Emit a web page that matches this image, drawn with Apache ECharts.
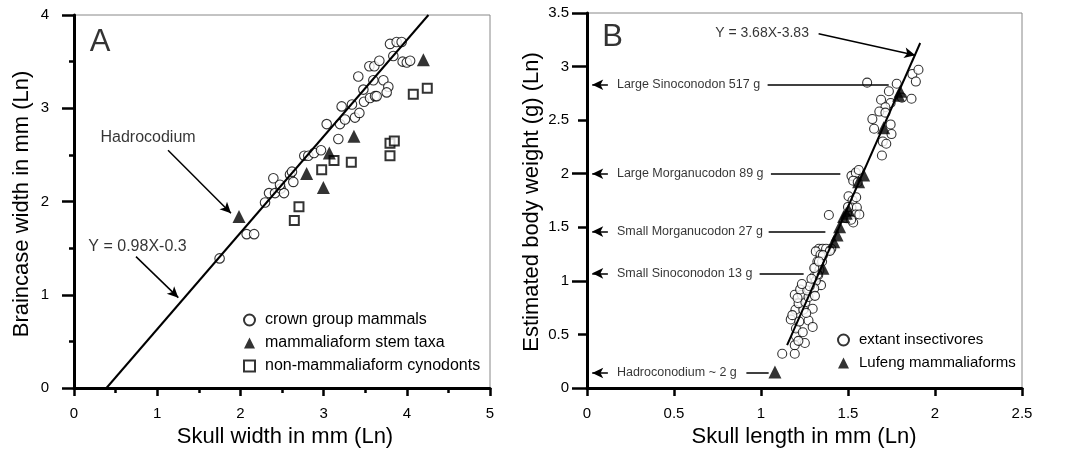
<!DOCTYPE html>
<html>
<head>
<meta charset="utf-8">
<script src="https://cdn.jsdelivr.net/npm/echarts@6/dist/echarts.min.js"></script>
<style>
html,body{margin:0;padding:0;background:#fff;}
#chart{width:1081px;height:450px;}
</style>
</head>
<body>
<div id="chart"></div>
<script>
// ---------- Panel A data ----------
const crownA = [
 [1.75,1.39],[2.075,1.65],[2.165,1.65],[2.296,1.99],[2.344,2.09],[2.416,2.09],[2.396,2.25],
 [2.484,2.14],[2.524,2.09],[2.476,2.18],[2.596,2.29],[2.62,2.32],[2.636,2.21],[2.768,2.49],
 [2.816,2.49],[2.885,2.52],[2.969,2.55],[3.037,2.83],[3.177,2.67],[3.197,2.83],[3.217,3.02],
 [3.257,2.88],[3.341,3.04],[3.377,2.90],[3.43,2.95],[3.417,3.34],[3.486,3.07],[3.478,3.20],
 [3.558,3.11],[3.618,3.13],[3.638,3.13],[3.598,3.30],[3.55,3.45],[3.61,3.45],[3.67,3.51],
 [3.718,3.30],[3.778,3.23],[3.758,3.17],[3.838,3.56],[3.798,3.69],[3.878,3.71],[3.938,3.71],
 [3.95,3.50],[4.00,3.49],[4.04,3.51]
];
const stemA = [[1.983,1.84],[2.796,2.30],[2.997,2.15],[3.069,2.52],[3.365,2.70],[4.199,3.52]];
const cynA = [[2.648,1.795],[2.704,1.945],[2.977,2.34],[3.125,2.44],[3.333,2.42],[3.798,2.49],
 [3.798,2.625],[3.85,2.65],[4.078,3.15],[4.246,3.215]];
const fitA = [[0.39,0],[4.26,4.0]];
const xTicksA = {min:0,max:5,interval:1};
const yTicksA = {min:0,max:4,interval:1};

// ---------- Panel B data ----------
const extantB = [
 // upper group
 [1.61,2.85],[1.78,2.84],[1.87,2.93],[1.905,2.97],[1.89,2.86],[1.865,2.70],[1.81,2.71],
 [1.735,2.77],[1.69,2.69],[1.745,2.66],[1.715,2.62],[1.68,2.58],[1.715,2.57],[1.64,2.51],
 [1.65,2.42],[1.745,2.46],[1.75,2.37],[1.70,2.30],[1.72,2.28],[1.695,2.17],
 // middle group
 [1.52,1.98],[1.545,2.01],[1.562,2.035],[1.53,1.935],[1.556,1.92],[1.503,1.79],[1.526,1.75],
 [1.547,1.78],[1.52,1.685],[1.551,1.684],[1.544,1.62],[1.565,1.62],[1.53,1.545],[1.50,1.69],
 [1.49,1.585],[1.518,1.57],[1.39,1.615],
 // lower-middle group
 [1.333,1.30],[1.354,1.30],[1.315,1.275],[1.342,1.244],[1.324,1.181],[1.351,1.181],
 [1.311,1.118],[1.336,1.102],[1.306,1.04],[1.329,1.055],[1.404,1.30],[1.374,1.30],
 [1.396,1.28],[1.356,1.24],[1.345,0.96],[1.315,1.0],[1.324,1.06],[1.306,1.12],[1.333,1.18],
 // lower group
 [1.122,0.32],[1.194,0.32],[1.194,0.40],[1.252,0.42],[1.201,0.485],[1.201,0.555],[1.171,0.64],
 [1.273,0.63],[1.297,0.57],[1.198,0.73],[1.243,0.73],[1.297,0.74],[1.216,0.79],[1.255,0.80],
 [1.194,0.87],[1.234,0.87],[1.273,0.85],[1.225,0.92],[1.266,0.91],[1.306,0.93],
 [1.18,0.68],[1.22,0.62],[1.26,0.70],[1.21,0.84],[1.28,0.95],[1.29,1.02],[1.31,0.86],
 [1.24,0.52],[1.215,0.44],[1.235,0.97]
];
const lufengB = [[1.08,0.15],[1.356,1.118],[1.418,1.366],[1.437,1.429],[1.452,1.506],[1.475,1.60],
 [1.49,1.63],[1.504,1.66],[1.561,1.925],[1.59,1.988],[1.705,2.43],[1.791,2.733],[1.80,2.77]];
const fitB = [[1.15,0.40],[1.915,3.22]];
const xTicksB = {min:0,max:2.5,interval:0.5};
const yTicksB = {min:0,max:3.5,interval:0.5};

// ---------- Annotations ----------
const labelsB = ['Large Sinoconodon 517 g','Large Morganucodon 89 g','Small Morganucodon 27 g','Small Sinoconodon 13 g','Hadroconodium ~ 2 g'];
const levelsB = [2.83, 2.0, 1.46, 1.07, 0.14];
const connStartB = [1.038, 1.057, 1.044, 0.992, 0.916];
const connEndB = [1.734, 1.456, 1.37, 1.245, 1.044];
const axisTitles = ['Skull width in mm (Ln)','Braincase width in mm (Ln)','Skull length in mm (Ln)','Estimated body weight (g) (Ln)'];

const FONT = "'Liberation Sans', Arial, Helvetica, sans-serif";
const BLACK = '#000';
const tickStyle = {color:BLACK,width:2.5};

function mkAxis(base, ticks){
  return Object.assign({
    type:'value',
    splitLine:{show:false},
    axisLine:{show:true,onZero:false,lineStyle:{color:BLACK,width:3}}
  }, base, ticks);
}

const arrowLine = (a,b) => [{coord:a, symbol:'none'}, {coord:b, symbol:'arrow'}];
const plainLine = (a,b) => [{coord:a, symbol:'none'}, {coord:b, symbol:'none'}];
const axisLineMark = (a,b) => [{coord:a, symbol:'none', lineStyle:{width:3}}, {coord:b, symbol:'none'}];

const markLineStyle = {
  silent:true, animation:false,
  symbolSize:[8,11],
  label:{show:false},
  lineStyle:{color:BLACK,width:1.5,type:'solid'},
  emphasis:{disabled:true}
};

function note(value, text, size, align){
  return {value:value, name:text,
    label:{show:true, formatter:'{b}', position:'inside', align:align, verticalAlign:'middle',
      color:BLACK, fontSize:size, fontFamily:FONT}};
}
const notesA = [
  note([0.19,3.71], 'A', 31, 'left'),
  note([0.89,2.68], 'Hadrocodium', 16, 'center'),
  note([0.763,1.516], 'Y = 0.98X-0.3', 16, 'center')
];
const notesB = [
  note([0.088,3.268], 'B', 31, 'left'),
  note([1.006,3.31], 'Y = 3.68X-3.83', 14, 'center')
].concat(levelsB.map((v,i) => note([0.172,v], labelsB[i], 12.5, 'left')));

const noteSeries = (xi, data) => ({
  type:'scatter', name:'notes'+xi, xAxisIndex:xi, yAxisIndex:xi, data:data,
  symbol:'circle', symbolSize:1, silent:true, z:10,
  itemStyle:{color:'rgba(0,0,0,0)'}, emphasis:{disabled:true},
  labelLayout:{hideOverlap:false}
});

function titleText(x, y, text, rot){
  return {type:'text', x:x, y:y, rotation:rot||0, silent:true,
    style:{text:text, fill:BLACK, font:'22px '+FONT, align:'center', verticalAlign:'middle'}};
}

const chart = echarts.init(document.getElementById('chart'), null, {renderer:'canvas'});

const option = {
  animation:false,
  backgroundColor:'#fff',
  textStyle:{fontFamily:FONT},
  grid:[
    {left:74, top:15, width:416, height:373, show:true, borderColor:'#888', borderWidth:1},
    {left:587, top:13, width:435, height:375, show:true, borderColor:'#888', borderWidth:1}
  ],
  xAxis:[
    mkAxis({gridIndex:0,
      axisTick:{show:true,length:8,lineStyle:tickStyle},
      minorTick:{show:true,splitNumber:2,length:5,lineStyle:tickStyle},
      axisLabel:{show:true,color:BLACK,fontSize:15,fontFamily:FONT,margin:18}}, xTicksA),
    mkAxis({gridIndex:1,
      axisTick:{show:true,length:8,lineStyle:tickStyle},
      axisLabel:{show:true,color:BLACK,fontSize:15,fontFamily:FONT,margin:18}}, xTicksB)
  ],
  yAxis:[
    mkAxis({gridIndex:0,
      axisTick:{show:true,length:12,lineStyle:tickStyle},
      minorTick:{show:true,splitNumber:2,length:5,lineStyle:tickStyle},
      axisLabel:{show:true,color:BLACK,fontSize:15,fontFamily:FONT,margin:25}}, yTicksA),
    mkAxis({gridIndex:1,
      axisTick:{show:true,length:9,lineStyle:tickStyle},
      axisLabel:{show:true,color:BLACK,fontSize:15,fontFamily:FONT,margin:18}}, yTicksB),
    // longer integer ticks for panel B
    {type:'value', gridIndex:1, position:'left', min:yTicksB.min, max:yTicksB.max, interval:1,
     axisLine:{show:false}, axisLabel:{show:false}, splitLine:{show:false},
     axisTick:{show:true,length:15,lineStyle:tickStyle}}
  ],
  legend:[
    {data:['crown group mammals','mammaliaform stem taxa','non-mammaliaform cynodonts'],
     orient:'vertical', left:243, top:311, padding:0, itemWidth:11, itemHeight:11, itemGap:5,
     selectedMode:false, textStyle:{color:BLACK,fontSize:16,lineHeight:18,fontFamily:FONT,padding:[0,0,0,5]}},
    {data:['extant insectivores','Lufeng mammaliaforms'],
     orient:'vertical', left:837, top:331, padding:0, itemWidth:11, itemHeight:11, itemGap:5,
     selectedMode:false, textStyle:{color:BLACK,fontSize:15,lineHeight:18,fontFamily:FONT,padding:[0,0,0,5]}}
  ],
  graphic:[
    titleText(285, 437, axisTitles[0]),
    titleText(22, 204, axisTitles[1], Math.PI/2),
    titleText(804, 437, axisTitles[2]),
    titleText(532, 202, axisTitles[3], Math.PI/2)
  ],
  series:[
    {type:'line', name:'fitA', xAxisIndex:0, yAxisIndex:0, data:fitA, showSymbol:false, silent:true, clip:false,
     lineStyle:{color:BLACK,width:2},
     markLine:Object.assign({data:[
       arrowLine([1.13,2.55],[1.887,1.873]),
       arrowLine([0.745,1.409],[1.254,0.969]),
       axisLineMark([xTicksA.min,yTicksA.min],[xTicksA.max,yTicksA.min]),
       axisLineMark([xTicksA.min,yTicksA.min],[xTicksA.min,yTicksA.max])
     ]}, markLineStyle)},
    {type:'scatter', name:'crown group mammals', xAxisIndex:0, yAxisIndex:0, data:crownA,
     symbol:'circle', symbolSize:9.5, itemStyle:{color:'#fff',borderColor:BLACK,borderWidth:1.1}},
    {type:'scatter', name:'non-mammaliaform cynodonts', xAxisIndex:0, yAxisIndex:0, data:cynA,
     symbol:'rect', symbolSize:9, itemStyle:{color:'#fff',borderColor:BLACK,borderWidth:2}},
    {type:'scatter', name:'mammaliaform stem taxa', xAxisIndex:0, yAxisIndex:0, data:stemA,
     symbol:'triangle', symbolSize:13, itemStyle:{color:BLACK}},
    noteSeries(0, notesA),

    {type:'line', name:'fitB', xAxisIndex:1, yAxisIndex:1, data:fitB, showSymbol:false, silent:true, clip:false,
     lineStyle:{color:BLACK,width:2},
     markLine:Object.assign({data:[
       arrowLine([1.331,3.307],[1.887,3.106]),
       axisLineMark([xTicksB.min,yTicksB.min],[xTicksB.max,yTicksB.min]),
       axisLineMark([xTicksB.min,yTicksB.min],[xTicksB.min,yTicksB.max])
     ].concat(levelsB.map(v => arrowLine([0.12,v],[0.03,v])))
      .concat(levelsB.map((v,i) => plainLine([connStartB[i],v],[connEndB[i],v])))}, markLineStyle)},
    {type:'scatter', name:'extant insectivores', xAxisIndex:1, yAxisIndex:1, data:extantB,
     symbol:'circle', symbolSize:9, itemStyle:{color:'#fff',borderColor:BLACK,borderWidth:1.1}},
    {type:'scatter', name:'Lufeng mammaliaforms', xAxisIndex:1, yAxisIndex:1, data:lufengB,
     symbol:'triangle', symbolSize:13, itemStyle:{color:BLACK}},
    noteSeries(1, notesB)
  ]
};
chart.setOption(option);
</script>
</body>
</html>
